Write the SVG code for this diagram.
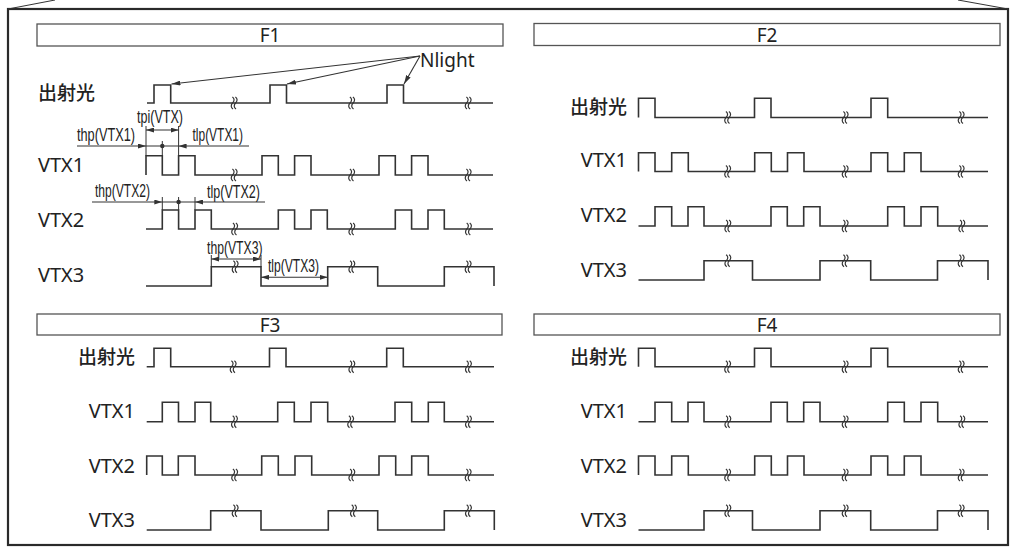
<svg xmlns="http://www.w3.org/2000/svg" width="1016" height="547" viewBox="0 0 1016 547">
<style>
.frame{fill:none;stroke:#2a2a2a;stroke-width:2.2}
.bar{fill:#fff;stroke:#555;stroke-width:1.3}
.wave{fill:none;stroke:#333;stroke-width:1.6;stroke-linejoin:miter}
.brk{fill:none;stroke:#333;stroke-width:1.2}
.dim{fill:none;stroke:#333;stroke-width:1.1}
.ext{fill:none;stroke:#333;stroke-width:1}
.ttl{font-family:"Noto Sans","DejaVu Sans",sans-serif;font-size:19px;fill:#222;text-anchor:middle}
.lbl{font-family:"Noto Sans","DejaVu Sans",sans-serif;font-size:20px;fill:#222}
.cjk{font-family:"Noto Sans CJK JP","Noto Sans CJK SC",sans-serif;font-size:19px;fill:#222;font-weight:500}
.end{text-anchor:end}
.ann{font-family:"Liberation Sans","Noto Sans",sans-serif;font-size:17.5px;fill:#222}
</style>
<defs>
<marker id="ah" markerUnits="userSpaceOnUse" markerWidth="9" markerHeight="5" refX="9" refY="2.5" orient="auto-start-reverse" viewBox="0 0 9 5"><path d="M0,0 L9,2.5 L0,5 z" fill="#333"/></marker>
<marker id="ad" markerUnits="userSpaceOnUse" markerWidth="8" markerHeight="5" refX="8" refY="2.5" orient="auto-start-reverse" viewBox="0 0 8 5"><path d="M0,0 L8,2.5 L0,5 z" fill="#333"/></marker>
<g id="brk"><path class="brk" d="M-1.6,-6 C0.6,-4.5 0.6,-2 -1.4,0 C-3.4,2 -3.2,4.5 -1,6 M1.4,-6 C3.6,-4.5 3.6,-2 1.6,0 C-0.4,2 -0.2,4.5 2,6"/></g>
</defs>

<g id="frame">
<rect class="frame" x="8" y="9" width="1000" height="536"/>
<line class="ext" x1="8" y1="9" x2="55" y2="0"/>
<line class="ext" x1="958" y1="0" x2="1008" y2="9"/>
</g>

<g id="panel-F1">
<rect class="bar" x="37" y="24" width="466" height="22"/>
<text class="ttl" x="270" y="42">F1</text>
<text class="cjk" x="38" y="100">出射光</text>
<text class="lbl" x="38" y="171.5">VTX1</text>
<text class="lbl" x="38" y="226.5">VTX2</text>
<text class="lbl" x="38" y="282">VTX3</text>
<text class="lbl" x="420" y="67" style="font-size:19px">Nlight</text>
<path class="wave" d="M147,103 H154 V85 H170.7 V103 H270 V85 H286.5 V103 H387 V85 H403.5 V103 H493"/>
<path class="wave" d="M146,175 V155.7 H162.3 V175 H178.6 V155.7 H195 V175 H262 V155.7 H278.3 V175 H294.6 V155.7 H311 V175 H379 V155.7 H395.3 V175 H411.6 V155.7 H428 V175 H493"/>
<path class="wave" d="M146,229 H162.3 V210 H178.6 V229 H195 V210 H211.3 V229 H278.3 V210 H294.6 V229 H311 V210 H327.3 V229 H395.3 V210 H411.6 V229 H428 V210 H444.3 V229 H493"/>
<path class="wave" d="M146,286 H211.3 V266.7 H261 V286 H327.7 V266.7 H377.7 V286 H444.3 V266.7 H494 V286"/>
<use href="#brk" x="234" y="103"/><use href="#brk" x="351.5" y="103"/><use href="#brk" x="468" y="103"/>
<use href="#brk" x="234" y="175"/><use href="#brk" x="351.5" y="175"/><use href="#brk" x="468" y="175"/>
<use href="#brk" x="234.5" y="229"/><use href="#brk" x="351.7" y="229"/><use href="#brk" x="468.3" y="229"/>
<use href="#brk" x="235" y="266.7"/><use href="#brk" x="351.7" y="266.7"/><use href="#brk" x="468" y="266.7"/>
</g>

<g id="panel-F2">
<rect class="bar" x="534" y="23.5" width="466" height="22"/>
<text class="ttl" x="767" y="41.5">F2</text>
<text class="cjk end" x="627" y="113.5">出射光</text>
<text class="lbl end" x="627" y="167">VTX1</text>
<text class="lbl end" x="627" y="222">VTX2</text>
<text class="lbl end" x="627" y="277">VTX3</text>
<path class="wave" d="M638.5,117.5 V98.3 H655 V117.5 H754.5 V98.3 H771 V117.5 H871 V98.3 H887.7 V117.5 H988"/>
<path class="wave" d="M638.5,171.5 V152.7 H655 V171.5 H671.7 V152.7 H688.3 V171.5 H754.7 V152.7 H771.3 V171.5 H787.5 V152.7 H804 V171.5 H871 V152.7 H887.7 V171.5 H904.3 V152.7 H921 V171.5 H988"/>
<path class="wave" d="M638.5,226 H655 V206.7 H671.7 V226 H688 V206.7 H704 V226 H771 V206.7 H787.3 V226 H803.7 V206.7 H820 V226 H887.7 V206.7 H904.3 V226 H921 V206.7 H937.7 V226 H988"/>
<path class="wave" d="M638.5,280 H704 V260.7 H752.5 V280 H820 V260.7 H870.7 V280 H937.5 V260.7 H988 V280"/>
<use href="#brk" x="727.5" y="117.5"/><use href="#brk" x="845" y="117.5"/><use href="#brk" x="961" y="117.5"/>
<use href="#brk" x="727.5" y="171.5"/><use href="#brk" x="845" y="171.5"/><use href="#brk" x="961" y="171.5"/>
<use href="#brk" x="727.7" y="226"/><use href="#brk" x="845" y="226"/><use href="#brk" x="961.7" y="226"/>
<use href="#brk" x="727.7" y="260.7"/><use href="#brk" x="845" y="260.7"/><use href="#brk" x="961" y="260.7"/>
</g>

<g id="panel-F3">
<rect class="bar" x="37" y="314" width="465" height="21"/>
<text class="ttl" x="270" y="331.5">F3</text>
<text class="cjk end" x="135" y="363.5">出射光</text>
<text class="lbl end" x="135" y="418.3">VTX1</text>
<text class="lbl end" x="135" y="472.7">VTX2</text>
<text class="lbl end" x="135" y="527">VTX3</text>
<path class="wave" d="M146.7,366.7 H154 V348.3 H170.7 V366.7 H269.5 V348.3 H286 V366.7 H386.7 V348.3 H403.3 V366.7 H494"/>
<path class="wave" d="M146.7,421.7 H162.3 V402.3 H178.5 V421.7 H195 V402.3 H210.7 V421.7 H277.7 V402.3 H294.3 V421.7 H311 V402.3 H327.7 V421.7 H395 V402.3 H411.7 V421.7 H428.3 V402.3 H444.3 V421.7 H494"/>
<path class="wave" d="M146.7,475 V456 H162.3 V475 H178.3 V456 H195 V475 H261.7 V456 H278.3 V475 H295 V456 H311.7 V475 H379 V456 H395.7 V475 H411.7 V456 H428.3 V475 H494"/>
<path class="wave" d="M146.7,530 H210.7 V510.7 H261 V530 H328.3 V510.7 H377.7 V530 H444.3 V510.7 H494.3 V530"/>
<use href="#brk" x="233" y="366.7"/><use href="#brk" x="351.7" y="366.7"/><use href="#brk" x="468.3" y="366.7"/>
<use href="#brk" x="234.3" y="421.7"/><use href="#brk" x="350.5" y="421.7"/><use href="#brk" x="468.3" y="421.7"/>
<use href="#brk" x="234.5" y="475"/><use href="#brk" x="351.7" y="475"/><use href="#brk" x="468" y="475"/>
<use href="#brk" x="235" y="510.7"/><use href="#brk" x="353.3" y="510.7"/><use href="#brk" x="468.3" y="510.7"/>
</g>

<g id="panel-F4">
<rect class="bar" x="534" y="314" width="466" height="21"/>
<text class="ttl" x="767" y="331.5">F4</text>
<text class="cjk end" x="627" y="363.5">出射光</text>
<text class="lbl end" x="627" y="418.3">VTX1</text>
<text class="lbl end" x="627" y="472.7">VTX2</text>
<text class="lbl end" x="627" y="527">VTX3</text>
<path class="wave" d="M638.5,366.7 V348.3 H655 V366.7 H754.5 V348.3 H771 V366.7 H871 V348.3 H887.7 V366.7 H988"/>
<path class="wave" d="M638.5,421.7 H655 V402.3 H671.7 V421.7 H688 V402.3 H704 V421.7 H771 V402.3 H787.3 V421.7 H803.7 V402.3 H820 V421.7 H887.7 V402.3 H904.3 V421.7 H921 V402.3 H937.7 V421.7 H988"/>
<path class="wave" d="M638.5,475 V456 H655 V475 H671.7 V456 H688.3 V475 H754.7 V456 H771.3 V475 H787.5 V456 H804 V475 H871 V456 H887.7 V475 H904.3 V456 H921 V475 H988"/>
<path class="wave" d="M638.5,530 H704 V510.7 H752.5 V530 H820 V510.7 H870.7 V530 H937.5 V510.7 H988 V530"/>
<use href="#brk" x="727.5" y="366.7"/><use href="#brk" x="845" y="366.7"/><use href="#brk" x="961" y="366.7"/>
<use href="#brk" x="727.7" y="421.7"/><use href="#brk" x="845" y="421.7"/><use href="#brk" x="961.7" y="421.7"/>
<use href="#brk" x="727.5" y="475"/><use href="#brk" x="845" y="475"/><use href="#brk" x="961" y="475"/>
<use href="#brk" x="727.7" y="510.7"/><use href="#brk" x="845" y="510.7"/><use href="#brk" x="961" y="510.7"/>
</g>

<g id="annotations">
<text class="ann" x="137" y="123" textLength="46" lengthAdjust="spacingAndGlyphs">tpi(VTX)</text>
<text class="ann" x="77" y="141" textLength="58" lengthAdjust="spacingAndGlyphs">thp(VTX1)</text>
<text class="ann" x="192.5" y="141" textLength="50.5" lengthAdjust="spacingAndGlyphs">tlp(VTX1)</text>
<text class="ann" x="95" y="197" textLength="55" lengthAdjust="spacingAndGlyphs">thp(VTX2)</text>
<text class="ann" x="207" y="197.5" textLength="53" lengthAdjust="spacingAndGlyphs">tlp(VTX2)</text>
<text class="ann" x="207" y="254" textLength="55.5" lengthAdjust="spacingAndGlyphs">thp(VTX3)</text>
<text class="ann" x="268" y="272" textLength="51" lengthAdjust="spacingAndGlyphs">tlp(VTX3)</text>
<path class="ext" d="M146,126 V155.7 M178.6,126 V155.7 M162.3,141 V155.7"/>
<path class="ext" d="M162.3,197 V210 M178.6,197 V210 M195,197 V210"/>
<path class="ext" d="M211.3,255 V266.7 M261,255 V266.7"/>
<circle cx="162.3" cy="146" r="2.2" fill="#333"/>
<circle cx="178.6" cy="202" r="2.2" fill="#333"/>
</g>

<g id="connectors">
<line class="dim" x1="146" y1="130" x2="178.6" y2="130" marker-start="url(#ad)" marker-end="url(#ad)"/>
<path class="dim" d="M77,146 H146" marker-end="url(#ad)"/>
<path class="dim" d="M146,146 H178.6"/>
<path class="dim" d="M249,146 H178.6" marker-end="url(#ad)"/>
<path class="dim" d="M92,202 H162.3" marker-end="url(#ad)"/>
<path class="dim" d="M162.3,202 H195"/>
<path class="dim" d="M265,202 H195" marker-end="url(#ad)"/>
<line class="dim" x1="211.3" y1="259" x2="261" y2="259" marker-start="url(#ad)" marker-end="url(#ad)"/>
<line class="dim" x1="261" y1="277.3" x2="327.7" y2="277.3" marker-start="url(#ad)" marker-end="url(#ad)"/>
<line class="dim" x1="420" y1="56" x2="171.5" y2="84" marker-end="url(#ah)"/>
<line class="dim" x1="420" y1="56" x2="287" y2="84" marker-end="url(#ah)"/>
<line class="dim" x1="420" y1="56" x2="404" y2="84" marker-end="url(#ah)"/>
</g>
</svg>
